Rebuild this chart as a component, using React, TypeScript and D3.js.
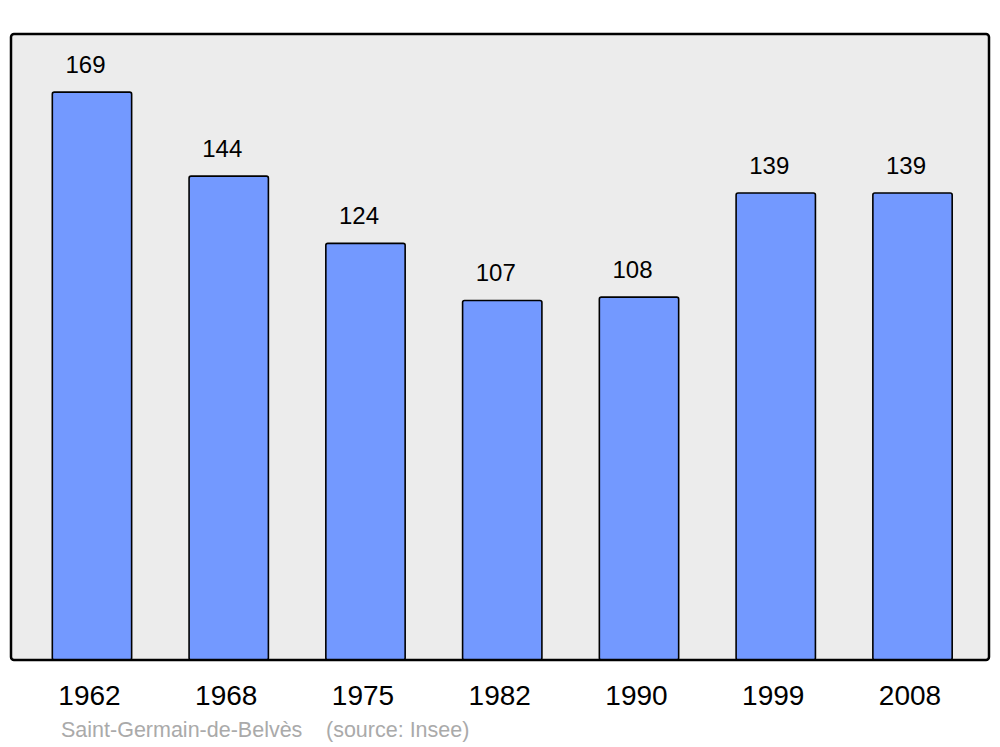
import React from "react";
import * as d3 from "d3";

const years = ["1962", "1968", "1975", "1982", "1990", "1999", "2008"];
const population = [169, 144, 124, 107, 108, 139, 139];
const commune = "Saint-Germain-de-Belvès";
const source = "(source: Insee)";

export default function App() {
  const W = 1000, H = 747;
  const left = 11, right = 989, top = 34, bottom = 660;
  const x = d3.scaleBand<string>().domain(years).range([23.6, 980.9]).paddingInner(0.42).paddingOuter(0.21);
  const y = d3.scaleLinear().domain([0, 186.3]).range([bottom, top]);
  const font = "'Liberation Sans', Arial, sans-serif";
  return (
    <svg width={W} height={H} style={{ position: "absolute", left: 0, top: 0 }} fontFamily={font}>
      <rect x={0} y={0} width={W} height={H} fill="#fff" />
      <rect x={left} y={top} width={right - left} height={bottom - top} rx={3} fill="#ececec" stroke="none" />
      {years.map((yr, i) => {
        const bx = x(yr)!;
        const bw = x.bandwidth();
        const v = population[i];
        return (
          <g key={yr}>
            <rect x={bx} y={y(v)} width={bw} height={bottom - y(v)} rx={2} fill="#7399ff" stroke="#000" strokeWidth={1.6} />
            <text x={bx + bw / 2 - 6.5} y={y(v) - 19} textAnchor="middle" fontSize={24} fill="#000">{v}</text>
            <text x={bx + bw / 2 - 2.5} y={705} textAnchor="middle" fontSize={28} fill="#000">{yr}</text>
          </g>
        );
      })}
      <rect x={left} y={top} width={right - left} height={bottom - top} rx={3} fill="none" stroke="#000" strokeWidth={2.5} />
      <text x={61} y={737} fontSize={21.5} fill="#aaaaaa">{commune}</text>
      <text x={326} y={737} fontSize={21.5} fill="#aaaaaa">{source}</text>
    </svg>
  );
}
